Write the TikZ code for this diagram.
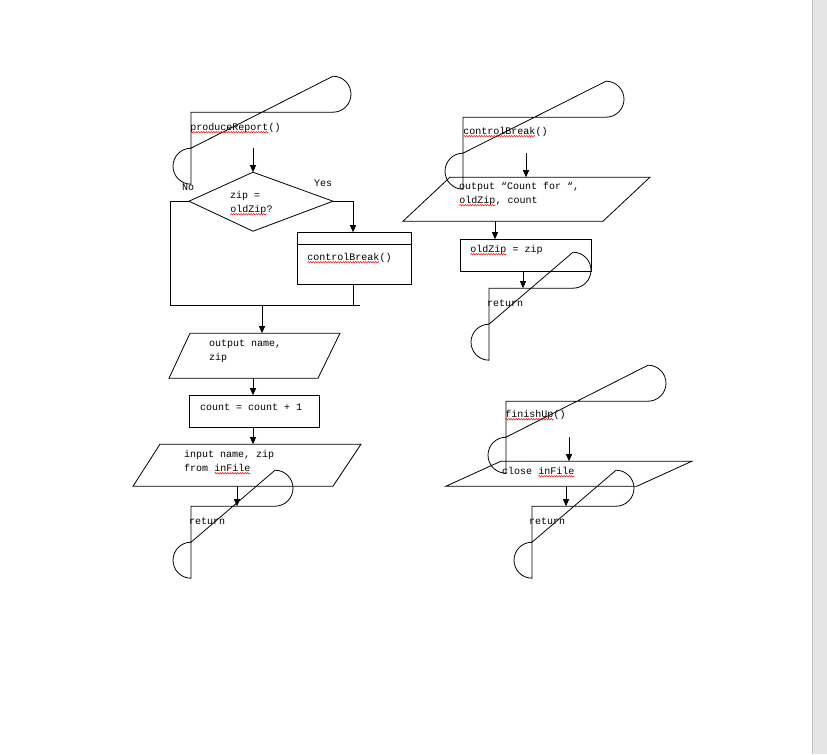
\documentclass[tikz,border=0pt]{standalone}
\usepackage{fontspec}
\setmonofont{Liberation Mono}
\usetikzlibrary{arrows.meta,decorations.pathmorphing}
\newcommand\sq[1]{\tikz[baseline=(w.base)]{\node[inner sep=0pt,outer sep=0pt](w){#1};\draw[red,line width=0.5pt,decorate,decoration={snake,amplitude=0.7pt,segment length=2.5pt}] ([yshift=-1.8pt]w.base west) -- ([yshift=-1.8pt]w.base east);}}
\begin{document}
\begin{tikzpicture}[x=1pt,y=-1pt,
  ln/.style={draw=black,line width=0.8pt},
  arr/.style={ln,-{Triangle[length=7pt,width=6pt]}},
  tx/.style={anchor=west,inner sep=0pt,font=\ttfamily\fontsize{10}{14}\selectfont,align=left}]
\fill[white] (0,0) rectangle (827,754);
\fill[black!10] (812,0) rectangle (827,754);
\draw[black!25] (812,0) -- (812,754);
% left column
\draw[ln] (191,112) -- (333,112) arc[start angle=90,end angle=-90,radius=18] -- (191,148) arc[start angle=270,end angle=90,radius=18] -- cycle;
\node[tx] (t1) at (190,128) {\sq{produceReport}()};
\draw[arr] (253,148) -- (253,172);
\draw[ln] (189,201) -- (253,172) -- (333,201) -- (253,231) -- cycle;
\node[tx] (d1) at (230,203) {zip =\\\sq{oldZip}?};
\node[tx] (no) at (182,187) {No};
\node[tx] (yes) at (314,183) {Yes};
\draw[ln] (189,201) -- (170,201) -- (170,305);
\draw[arr] (333,201) -- (353,201) -- (353,232);
\draw[ln] (297,232) rectangle (411,284);
\draw[ln] (297,244) -- (411,244);
\node[tx] (cb) at (307,258) {\sq{controlBreak}()};
\draw[ln] (353,284) -- (353,305);
\draw[ln] (170,305) -- (360,305);
\draw[arr] (262,305) -- (262,333);
\draw[ln] (190,333) -- (340,333) -- (318,378) -- (169,378) -- cycle;
\node[tx] (o1) at (209,351) {output name,\\zip};
\draw[arr] (253,378) -- (253,395);
\draw[ln] (189,395) rectangle (319,427);
\node[tx] (c1) at (200,407) {count = count + 1};
\draw[arr] (253,427) -- (253,444);
\draw[ln] (160,444) -- (361,444) -- (333,486) -- (133,486) -- cycle;
\node[tx] (i1) at (184,462) {input name, zip\\from \sq{inFile}};
\draw[arr] (237,486) -- (237,506);
\draw[ln] (191,506) -- (275,506) arc[start angle=90,end angle=-90,radius=18] -- (191,542) arc[start angle=270,end angle=90,radius=18] -- cycle;
\node[tx] (r1) at (189,521) {return};
% right column
\draw[ln] (463,117) -- (606,117) arc[start angle=90,end angle=-90,radius=18] -- (463,153) arc[start angle=270,end angle=90,radius=18] -- cycle;
\node[tx] (t2) at (463,132) {\sq{controlBreak}()};
\draw[arr] (526,153) -- (526,177);
\draw[ln] (450,177) -- (650,177) -- (603,221) -- (403,221) -- cycle;
\node[tx] (o2) at (459,194) {output “Count for “,\\\sq{oldZip}, count};
\draw[arr] (495,221) -- (495,239);
\draw[ln] (460,239) rectangle (591,271);
\node[tx] (b2) at (470,250) {\sq{oldZip} = zip};
\draw[arr] (523,271) -- (523,288);
\draw[ln] (489,288) -- (573,288) arc[start angle=90,end angle=-90,radius=18] -- (489,324) arc[start angle=270,end angle=90,radius=18] -- cycle;
\node[tx] (r2) at (487,303) {return};
\draw[ln] (506,401) -- (648,401) arc[start angle=90,end angle=-90,radius=18] -- (506,437) arc[start angle=270,end angle=90,radius=18] -- cycle;
\node[tx] (t3) at (505,415) {\sq{finishUp}()};
\draw[arr] (569,437) -- (569,461);
\draw[ln] (501,461) -- (692,461) -- (637,486) -- (446,486) -- cycle;
\node[tx] (cl) at (502,472) {close \sq{inFile}};
\draw[arr] (566,486) -- (566,506);
\draw[ln] (532,506) -- (616,506) arc[start angle=90,end angle=-90,radius=18] -- (532,542) arc[start angle=270,end angle=90,radius=18] -- cycle;
\node[tx] (r3) at (529,521) {return};
\end{tikzpicture}
\end{document}
